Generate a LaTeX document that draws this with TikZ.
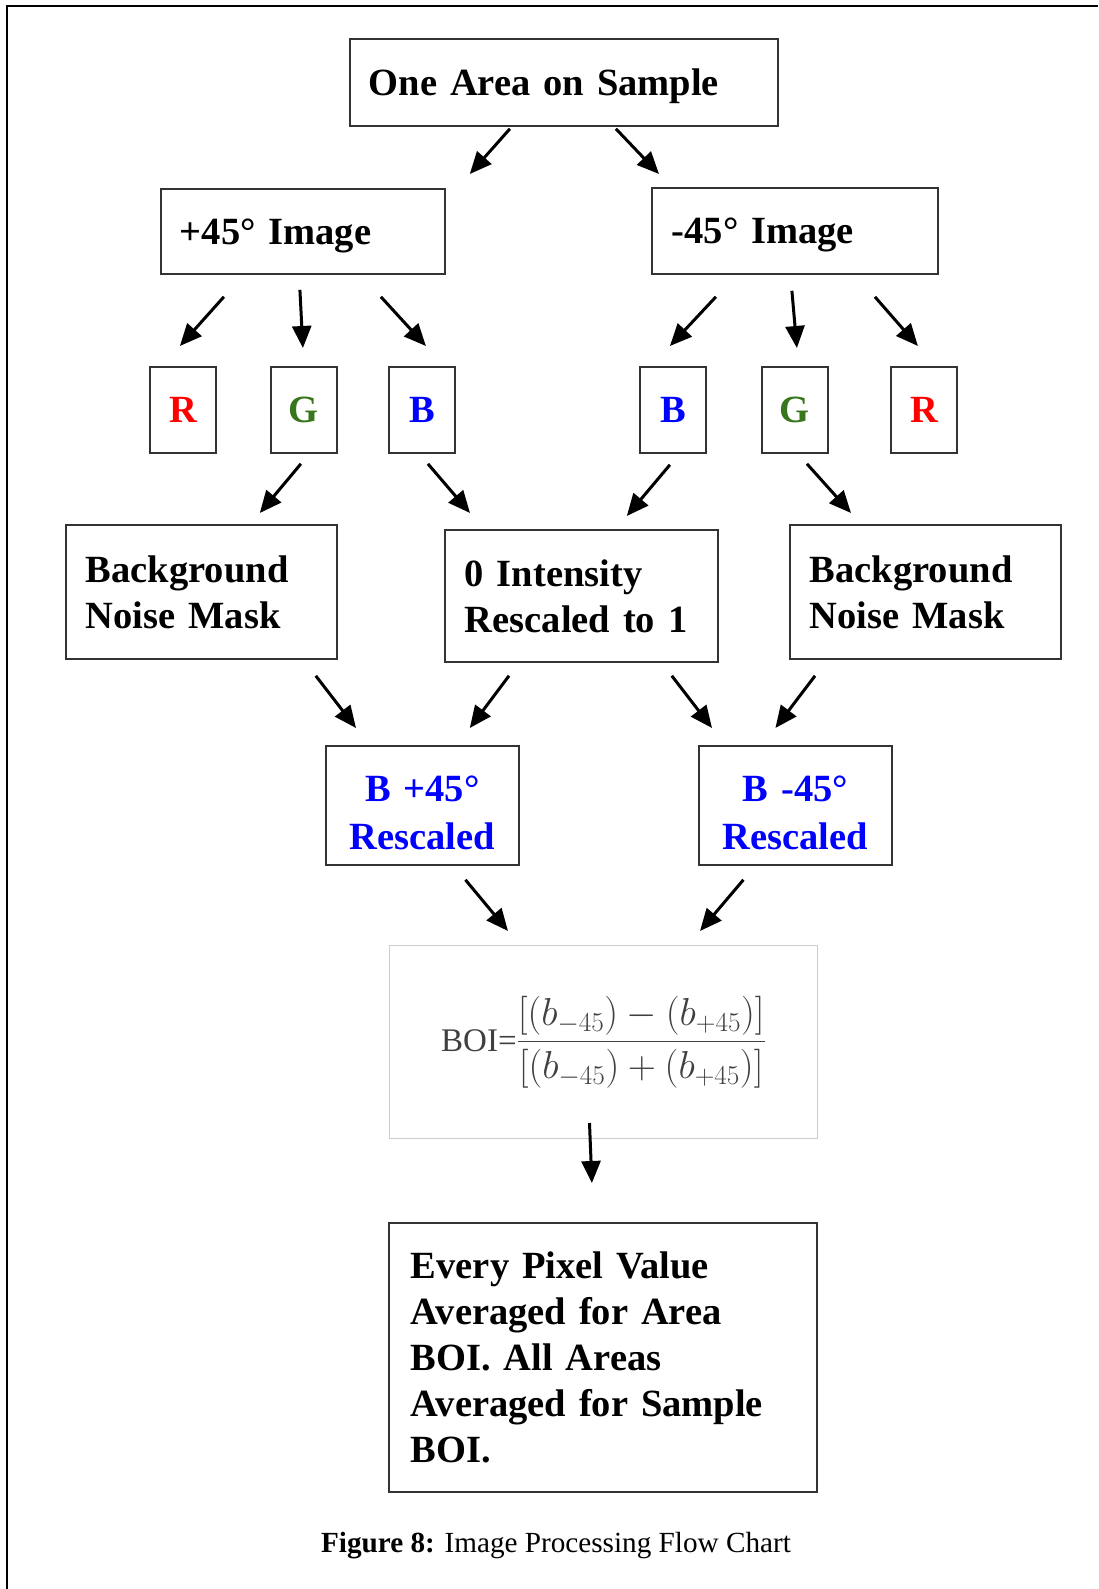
\RequirePackage{fix-cm}
\documentclass[tikz,border=0pt]{standalone}
\usepackage{amsmath}
\usepackage{fontspec}
\setmainfont{Liberation Serif}
\usepackage{xcolor}
\usetikzlibrary{arrows.meta}
\definecolor{redch}{HTML}{FF0000}
\definecolor{greench}{HTML}{38761D}
\definecolor{bluech}{HTML}{0000FF}
\newcommand{\boxfont}{\fontsize{38.5}{46}\selectfont\bfseries}

\begin{document}
\begin{tikzpicture}[x=1pt,y=-1pt,
  box/.style={draw=black!80,line width=1.8pt,anchor=north west,inner ysep=0pt,font=\boxfont,align=left},
  chan/.style={box,align=center,text width=66pt,inner xsep=0pt,minimum height=86pt},
  arr/.style={line width=3pt,-{Triangle[length=22pt,width=19pt]}}]
\useasboundingbox (0,0) rectangle (1098,1589);
\draw [line width=2.4pt] (7,1589) -- (7,6) -- (1098,6);
\node [box,inner xsep=19pt,text width=390pt,minimum height=87pt,text depth=0pt] (top) at (349,38) {One Area on Sample};
\node [box,inner xsep=19pt,text width=246pt,minimum height=85pt,text depth=0pt] (plus) at (160,188) {+45° Image};
\node [box,inner xsep=20pt,text width=246pt,minimum height=86pt,text depth=0pt] (minus) at (651,187) {-45° Image};
\node [chan,text=redch] (r1) at (149,366) {R};
\node [chan,text=greench] (g1) at (270,366) {G};
\node [chan,text=bluech] (b1) at (388,366) {B};
\node [chan,text=bluech] (b2) at (639,366) {B};
\node [chan,text=greench] (g2) at (761,366) {G};
\node [chan,text=redch] (r2) at (890,366) {R};
\node [box,inner xsep=20pt,text width=231pt,minimum height=134pt] (mask1) at (65,524) {Background\\Noise Mask};
\node [box,inner xsep=20pt,text width=233pt,minimum height=132pt] (inten) at (444,529) {0 Intensity\\Rescaled to 1};
\node [box,inner xsep=20pt,text width=231pt,minimum height=134pt] (mask2) at (789,524) {Background\\Noise Mask};
\node [box,align=center,text=bluech,text width=193pt,inner xsep=0pt,minimum height=119pt] (resc1) at (325,745) {\rule{0pt}{40pt}B +45°\\[2pt]Rescaled};
\node [box,align=center,text=bluech,text width=193pt,inner xsep=0pt,minimum height=119pt] (resc2) at (698,745) {\rule{0pt}{40pt}B -45°\\[2pt]Rescaled};
\node [box,draw=black!20,line width=1pt,font=\fontsize{33}{40}\selectfont,text=black!75,align=center,text width=428pt,inner xsep=0pt,minimum height=193pt] (boi) at (389,945) {BOI={\fontsize{39}{46}\selectfont$\dfrac{[(b_{-45})-(b_{+45})]}{[(b_{-45})+(b_{+45})]}$}};
\node [box,inner xsep=22pt,text width=384pt,minimum height=269pt] (final) at (388,1222) {Every Pixel Value\\Averaged for Area\\BOI. All Areas\\Averaged for Sample\\BOI.};
\node [anchor=base,font=\fontsize{29.2}{35}\selectfont] (caption) at (556,1552) {\textbf{Figure 8:} Image Processing Flow Chart};
\draw [arr] ([shift={(-54,2)}]top.south) -- ([shift={(24,-14)}]plus.north east);
\draw [arr] ([shift={(52,2)}]top.south) -- ([shift={(8,-13)}]minus.north west);
\draw [arr] ([shift={(-79,22)}]plus.south) -- ([shift={(-3,-20)}]r1.north);
\draw [arr] ([shift={(-3,15)}]plus.south) -- ([shift={(-1,-18)}]g1.north);
\draw [arr] ([shift={(78,22)}]plus.south) -- ([shift={(4,-20)}]b1.north);
\draw [arr] ([shift={(-79,22)}]minus.south) -- ([shift={(-3,-20)}]b2.north);
\draw [arr] ([shift={(-3,16)}]minus.south) -- ([shift={(2,-18)}]g2.north);
\draw [arr] ([shift={(80,22)}]minus.south) -- ([shift={(-6,-20)}]r2.north);
\draw [arr] ([shift={(-3,10)}]g1.south) -- ([shift={(-78,-11)}]mask1.north east);
\draw [arr] ([shift={(6,10)}]b1.south) -- ([shift={(26,-16)}]inten.north west);
\draw [arr] ([shift={(-3,11)}]b2.south) -- ([shift={(-92,-13)}]inten.north east);
\draw [arr] ([shift={(12,10)}]g2.south) -- ([shift={(62,-11)}]mask2.north west);
\draw [arr] ([shift={(-22,16)}]mask1.south east) -- ([shift={(31,-17)}]resc1.north west);
\draw [arr] ([shift={(65,13)}]inten.south west) -- ([shift={(-50,-17)}]resc1.north east);
\draw [arr] ([shift={(-47,13)}]inten.south east) -- ([shift={(14,-17)}]resc2.north west);
\draw [arr] ([shift={(26,16)}]mask2.south west) -- ([shift={(-20,-17)}]resc2.north);
\draw [arr] ([shift={(43,14)}]resc1.south) -- ([shift={(119,-14)}]boi.north west);
\draw [arr] ([shift={(-52,14)}]resc2.south) -- ([shift={(-118,-14)}]boi.north east);
\draw [arr] ([shift={(-14,-16)}]boi.south) -- ([shift={(-11,-39)}]final.north);
\end{tikzpicture}
\end{document}
